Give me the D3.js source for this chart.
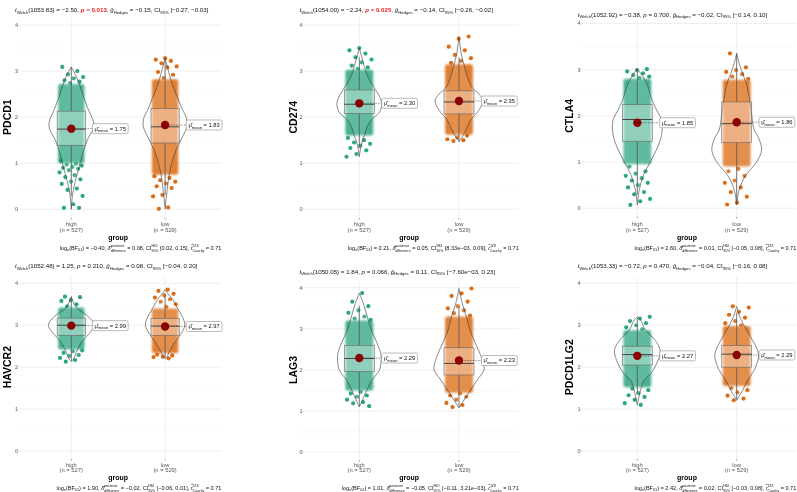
<!DOCTYPE html>
<html><head><meta charset="utf-8">
<script src="https://cdn.jsdelivr.net/npm/d3@7"></script>
<style>body{margin:0;background:#fff}svg{display:block;will-change:transform;transform:translateZ(0)}text{font-family:"Liberation Sans",Arial,sans-serif;-webkit-font-smoothing:antialiased}</style>
</head><body><svg id="c" width="797" height="492"></svg>
<script>
// ---------------- data ----------------
const genes = ["PDCD1","CD274","CTLA4","HAVCR2","LAG3","PDCD1LG2"];
const groups = ["high","low"];
const groupN = [527, 529];
const groupColors = ["#1b9e77","#d95f02"];
const yTicks = [0,1,2,3,4];
const yMinor = [0.5,1.5,2.5,3.5];

const welchDf = ["1053.83","1054.00","1052.92","1052.48","1050.05","1053.33"];
const tStat = ["−2.50","−2.24","−0.38","1.25","1.84","−0.72"];
const pValue = ["0.013","0.025","0.700","0.210","0.066","0.470"];
const pSignificant = [true,true,false,false,false,false];
const hedgesG = ["−0.15","−0.14","−0.02","0.08","0.11","−0.04"];
const hedgesCI = [["−0.27","−0.03"],["−0.26","−0.02"],["−0.14","0.10"],["−0.04","0.20"],["−7.60e−03","0.23"],["−0.16","0.08"]];
const logBF01 = ["−0.40","0.21","2.60","1.90","1.01","2.42"];
const deltaPosterior = ["0.08","0.05","0.01","−0.02","−0.05","0.02"];
const hdiCI = [["0.02","0.15"],["8.33e−03","0.09"],["−0.05","0.08"],["−0.06","0.01"],["−0.11","3.21e−03"],["−0.03","0.08"]];
const rCauchy = "0.71";

const meanHigh = [1.75, 2.30, 1.85, 2.99, 2.29, 2.27];
const meanLow  = [1.83, 2.35, 1.86, 2.97, 2.23, 2.29];

// box stats: [q1, median, q3, lower whisker, upper whisker]
const boxHigh = [[1.39,1.74,2.13,0.29,3.09],[2.08,2.28,2.59,1.33,3.30],[1.45,1.92,2.24,0.30,3.01],[2.76,3.00,3.17,2.15,3.68],[1.96,2.28,2.60,1.12,3.56],[2.05,2.30,2.50,1.38,3.17]];
const boxLow  = [[1.44,1.79,2.19,0.31,3.25],[2.07,2.33,2.57,1.47,3.30],[1.42,1.83,2.30,0.12,3.35],[2.76,2.98,3.16,2.21,3.75],[1.88,2.16,2.54,1.10,3.53],[2.00,2.31,2.52,1.23,3.30]];

// violin density profiles: [value, relative density]
const violinHigh = [
 [[0,0],[0.3,0.05],[0.5,0.12],[0.85,0.3],[1.22,0.49],[1.5,0.68],[1.75,0.93],[1.9,0.94],[2.15,0.74],[2.4,0.55],[2.66,0.38],[2.9,0.2],[3.09,0]],
 [[1.14,0],[1.4,0.08],[1.6,0.2],[1.8,0.32],[1.95,0.5],[2.1,0.8],[2.3,0.9],[2.5,0.76],[2.7,0.52],[2.9,0.32],[3.1,0.2],[3.3,0.1],[3.5,0]],
 [[0.07,0],[0.4,0.08],[0.7,0.24],[1.0,0.52],[1.3,0.8],[1.6,0.98],[1.9,0.98],[2.13,0.77],[2.4,0.55],[2.63,0.43],[2.85,0.22],[3.01,0]],
 [[2.13,0],[2.2,0.1],[2.4,0.25],[2.6,0.44],[2.8,0.76],[3.0,0.98],[3.2,0.74],[3.4,0.25],[3.6,0.05],[3.68,0]],
 [[1.1,0],[1.27,0.13],[1.51,0.3],[1.75,0.5],[1.99,0.8],[2.2,0.87],[2.4,0.86],[2.73,0.66],[2.97,0.48],[3.29,0.32],[3.62,0.16],[3.87,0]],
 [[1.1,0],[1.45,0.13],[1.69,0.27],[1.85,0.55],[2.17,0.84],[2.4,0.92],[2.64,0.72],[2.88,0.33],[3.12,0.13],[3.2,0]]
];
const violinLow = [
 [[0.01,0],[0.3,0.06],[0.74,0.17],[1.0,0.28],[1.28,0.46],[1.55,0.72],[1.8,0.93],[2.0,0.9],[2.15,0.75],[2.4,0.55],[2.66,0.34],[2.95,0.17],[3.28,0]],
 [[1.47,0],[1.58,0.14],[1.75,0.3],[1.94,0.47],[2.15,0.8],[2.37,0.96],[2.5,0.8],[2.66,0.5],[2.9,0.32],[3.1,0.22],[3.35,0.1],[3.75,0]],
 [[0.08,0],[0.4,0.1],[0.7,0.35],[1.0,0.8],[1.25,1.0],[1.5,0.9],[1.7,0.7],[2.13,0.58],[2.63,0.42],[2.9,0.25],[3.1,0.12],[3.35,0]],
 [[2.2,0],[2.25,0.08],[2.4,0.21],[2.6,0.42],[2.8,0.68],[3.0,0.84],[3.2,0.74],[3.4,0.53],[3.6,0.34],[3.75,0.12],[3.85,0]],
 [[1.08,0],[1.27,0.2],[1.51,0.46],[1.75,0.72],[2.0,1.0],[2.2,0.96],[2.4,0.84],[2.73,0.6],[2.97,0.44],[3.29,0.3],[3.62,0.13],[3.98,0]],
 [[1.21,0],[1.45,0.24],[1.69,0.44],[1.93,0.71],[2.25,0.88],[2.4,0.84],[2.64,0.64],[2.88,0.4],[3.2,0.13],[3.45,0]]
];

// dense central range of the jittered points [low, high]
const coreHigh = [[1.0,2.72],[1.6,3.03],[0.95,2.8],[2.42,3.42],[1.5,3.2],[1.52,2.88]];
const coreLow  = [[0.75,2.82],[1.62,3.15],[0.9,2.78],[2.33,3.4],[1.45,3.3],[1.55,2.98]];

// individually visible points outside the dense range
const tailHigh = [
 [3.09,3.0,2.93,2.87,2.84,2.8,2.77,2.74,1.05,0.99,0.97,0.95,0.92,0.9,0.88,0.85,0.8,0.74,0.7,0.65,0.6,0.55,0.45,0.42,0.29,0.11,0.03,0.03],
 [3.5,3.45,3.38,3.3,3.25,3.19,3.12,3.08,3.05,1.55,1.5,1.45,1.42,1.38,1.33,1.28,1.2,1.14],
 [3.01,2.99,2.96,2.92,2.88,2.85,2.82,0.9,0.8,0.75,0.7,0.65,0.6,0.55,0.5,0.45,0.35,0.3,0.2,0.15,0.07],
 [3.68,3.67,3.6,3.58,3.5,3.45,2.4,2.38,2.34,2.29,2.27,2.22,2.17,2.13],
 [3.87,3.66,3.55,3.45,3.39,3.3,3.25,3.22,1.47,1.43,1.38,1.35,1.28,1.22,1.19,1.12],
 [3.2,3.16,3.1,3.05,3.0,2.95,2.9,1.49,1.45,1.38,1.33,1.29,1.22,1.14,1.1]
];
const tailLow = [
 [3.28,3.25,3.22,3.17,3.1,3.08,2.98,2.92,2.85,0.72,0.68,0.63,0.6,0.56,0.5,0.46,0.31,0.28,0.04,0.01],
 [3.75,3.7,3.53,3.45,3.35,3.28,3.22,3.18,1.6,1.56,1.52,1.5,1.48],
 [3.35,3.05,2.99,2.95,2.9,2.85,2.8,0.85,0.8,0.7,0.6,0.55,0.45,0.35,0.25,0.12,0.08],
 [3.85,3.82,3.75,3.71,3.66,3.62,3.56,3.5,3.44,2.3,2.28,2.25,2.24,2.21],
 [3.98,3.86,3.8,3.66,3.55,3.5,3.45,3.38,3.32,1.43,1.38,1.35,1.28,1.2,1.15,1.1],
 [3.45,3.42,3.32,3.25,3.18,3.1,3.05,3.0,1.5,1.45,1.4,1.32,1.25,1.21]
];

// ---------------- layout ----------------
const svg = d3.select("#c");
const defs = svg.append("defs");
defs.append("filter").attr("id", "soft").attr("x", "-20%").attr("y", "-5%").attr("width", "140%").attr("height", "110%")
  .append("feGaussianBlur").attr("stdDeviation", 0.8);
const colX = [[15,221.4],[299.5,518.8],[577.7,796.3]];
const panelYpx = [[209.3,25],[209.3,25],[208.2,23.4],[451,283.3],[452.3,287.7],[451,283.3]];
const yLabelX = [7, 293, 569];
const rowText = [{high:223.5, n:229.5, group:237.5, cap:248},{high:464.5, n:470, group:477.5, cap:488}];
const titleY = [12, 12, 16.5, 268, 273.5, 268];

function rich(parent, segs, size, ax, ay, align) {
  const g = parent.append("g");
  let x = 0;
  const put = (s, xx) => {
    const fs = size * (s.s || 1);
    const t = g.append("text").attr("x", xx).attr("y", (s.dy||0)*size)
      .attr("font-size", fs).attr("fill", s.fill || "#111")
      .attr("font-style", s.it ? "italic" : null)
      .attr("font-weight", s.b ? "bold" : null)
      .style("white-space","pre").text(s.t);
    return t.node().getComputedTextLength();
  };
  segs.forEach(s => {
    if (s.stack) {
      const w1 = put({t:s.stack[0], s:0.62, dy:-0.38}, x);
      const w2 = put({t:s.stack[1], s:0.62, dy:0.36}, x);
      x += Math.max(w1, w2);
    } else {
      x += put(s, x);
    }
  });
  g.attr("transform", `translate(${align === "end" ? ax - x : ax},${ay})`);
  return x;
}

function titleSegs(i) {
  const red = pSignificant[i] ? "#e41a1c" : null;
  return [
    {t:"t", it:1}, {t:"Welch", s:0.68, dy:0.3}, {t:`(${welchDf[i]}) = ${tStat[i]}, `},
    {t:"p", it:1, fill:red, b:pSignificant[i]}, {t:` = ${pValue[i]}`, fill:red, b:pSignificant[i]},
    {t:", "}, {t:"g\u0302", it:1}, {t:"Hedges", s:0.68, dy:0.3}, {t:` = ${hedgesG[i]}, CI`},
    {t:"95%", s:0.68, dy:0.3}, {t:` [${hedgesCI[i][0]}, ${hedgesCI[i][1]}]`}
  ];
}
function captionSegs(i) {
  return [
    {t:"log"}, {t:"e", s:0.68, dy:0.3}, {t:"(BF"}, {t:"01", s:0.68, dy:0.3}, {t:`) = ${logBF01[i]}, `},
    {t:"δ\u0302", it:1}, {stack:["posterior","difference"]}, {t:` = ${deltaPosterior[i]}, CI`},
    {stack:["HDI","95%"]}, {t:` [${hdiCI[i][0]}, ${hdiCI[i][1]}], `},
    {t:"r\u0302", it:1}, {stack:["JZS","Cauchy"]}, {t:` = ${rCauchy}`}
  ];
}

const probe = svg.append("g").attr("opacity", 0);
const titleSize = 10 * 194 / rich(probe, titleSegs(0), 10, 0, 0, "start");
const capSize = 10 * 162 / rich(probe, captionSegs(0), 10, 0, 0, "start");
probe.remove();

function jit(i, g) { return ((i * 0.6180339887 + g * 0.37 + 0.13) % 1) * 2 - 1; }

genes.forEach((gene, i) => {
  const col = i % 3, row = Math.floor(i / 3);
  const x = d3.scaleLinear().domain([0.4, 2.6]).range(colX[col]);
  const y = d3.scaleLinear().domain([0, 4]).range(panelYpx[i]);
  const unit = x(1) - x(0);
  const P = svg.append("g");
  const top = y(4.16), bot = y(-0.16);

  P.selectAll(".mn").data(yMinor).join("line")
    .attr("x1", colX[col][0]).attr("x2", colX[col][1]).attr("y1", d => y(d)).attr("y2", d => y(d))
    .attr("stroke", "#f3f3f3").attr("stroke-width", 0.5);
  P.selectAll(".mj").data(yTicks).join("line")
    .attr("x1", colX[col][0]).attr("x2", colX[col][1]).attr("y1", d => y(d)).attr("y2", d => y(d))
    .attr("stroke", "#e8e8e8").attr("stroke-width", 0.7);
  P.selectAll(".vg").data(groups).join("line")
    .attr("x1", (d, k) => x(k + 1)).attr("x2", (d, k) => x(k + 1)).attr("y1", top).attr("y2", bot)
    .attr("stroke", "#e8e8e8").attr("stroke-width", 0.7);

  P.selectAll(".yt").data(yTicks).join("text")
    .attr("x", colX[col][0] + 3).attr("y", d => y(d) + 2).attr("text-anchor", "end")
    .attr("font-size", 5.6).attr("fill", "#666").text(d => d);
  P.append("text").attr("transform", `translate(${yLabelX[col] + 4},${y(2)}) rotate(-90)`)
    .attr("text-anchor", "middle").attr("font-size", 10.5).attr("font-weight", "bold").attr("fill", "#000").text(gene);

  groups.forEach((gname, k) => {
    const cx = x(k + 1);
    P.append("line").attr("x1", cx).attr("x2", cx).attr("y1", bot + 1).attr("y2", bot + 3)
      .attr("stroke", "#555").attr("stroke-width", 0.5);
    P.append("text").attr("x", cx).attr("y", rowText[row].high + 2).attr("text-anchor", "middle")
      .attr("font-size", 5.8).attr("fill", "#555").text(gname);
    P.append("text").attr("x", cx).attr("y", rowText[row].n + 2).attr("text-anchor", "middle")
      .attr("font-size", 5.8).attr("fill", "#555").text(`(n = ${groupN[k]})`);
  });
  P.append("text").attr("x", (colX[col][0] + colX[col][1]) / 2).attr("y", rowText[row].group + 2.5)
    .attr("text-anchor", "middle").attr("font-size", 7).attr("font-weight", "bold").attr("fill", "#000").text("group");

  const sets = [
    {box: boxHigh[i], vio: violinHigh[i], core: coreHigh[i], tail: tailHigh[i], mean: meanHigh[i]},
    {box: boxLow[i], vio: violinLow[i], core: coreLow[i], tail: tailLow[i], mean: meanLow[i]}
  ];
  sets.forEach((S, k) => {
    const cx = x(k + 1), col0 = groupColors[k];
    const jw = 0.13 * unit;
    P.append("rect").attr("x", cx - jw - 1).attr("width", 2 * jw + 2)
      .attr("y", y(S.core[1])).attr("height", y(S.core[0]) - y(S.core[1]))
      .attr("rx", 2.5).attr("fill", col0).attr("opacity", 0.8).attr("filter", "url(#soft)");
    P.selectAll(null).data(S.tail).join("circle")
      .attr("cx", (d, j) => cx + jit(j, k + i) * jw).attr("cy", d => y(d)).attr("r", 2.1)
      .attr("fill", col0).attr("opacity", 0.92);
    const area = d3.area().curve(d3.curveCatmullRom)
      .y(d => y(d[0])).x0(d => cx - d[1] * 0.25 * unit).x1(d => cx + d[1] * 0.25 * unit);
    P.append("path").attr("d", area(S.vio)).attr("fill", "#fff").attr("fill-opacity", 0.12)
      .attr("stroke", "#3a3a3a").attr("stroke-width", 0.6);
    const bw = 0.15 * unit;
    const [q1, med, q3, wl, wh] = S.box;
    P.append("line").attr("x1", cx).attr("x2", cx).attr("y1", y(q3)).attr("y2", y(wh))
      .attr("stroke", "#555").attr("stroke-width", 0.8);
    P.append("line").attr("x1", cx).attr("x2", cx).attr("y1", y(q1)).attr("y2", y(wl))
      .attr("stroke", "#555").attr("stroke-width", 0.8);
    P.append("rect").attr("x", cx - bw).attr("width", 2 * bw).attr("y", y(q3)).attr("height", y(q1) - y(q3))
      .attr("fill", "#fff").attr("fill-opacity", 0.3).attr("stroke", "#666").attr("stroke-width", 0.6);
    P.append("line").attr("x1", cx - bw).attr("x2", cx + bw).attr("y1", y(med)).attr("y2", y(med))
      .attr("stroke", "#444").attr("stroke-width", 1);
    const lx = cx + 0.225 * unit, my = y(S.mean);
    P.append("line").attr("x1", cx).attr("x2", lx).attr("y1", my).attr("y2", my)
      .attr("stroke", "#222").attr("stroke-width", 0.5).attr("stroke-dasharray", "1.5,1.2");
    P.append("circle").attr("cx", cx).attr("cy", my).attr("r", 4.2).attr("fill", "#8b0000");
    const lg = P.append("g");
    const lbl = lg.append("g");
    const w = rich(lbl, [{t:"μ\u0302"}, {t:"mean", s:0.7, dy:0.3}, {t:` = ${S.mean.toFixed(2)}`}], 5.8, lx + 2.2, my + 1.9, "start");
    lg.insert("rect", ":first-child").attr("x", lx).attr("y", my - 5).attr("width", w + 4.4).attr("height", 10)
      .attr("rx", 1.6).attr("fill", "#fff").attr("stroke", "#777").attr("stroke-width", 0.5);
  });

  rich(svg, titleSegs(i), titleSize, colX[col][0], titleY[i], "start");
  rich(svg, captionSegs(i), capSize, colX[col][1], rowText[row].cap + 1.5, "end");
});
</script></body></html>
